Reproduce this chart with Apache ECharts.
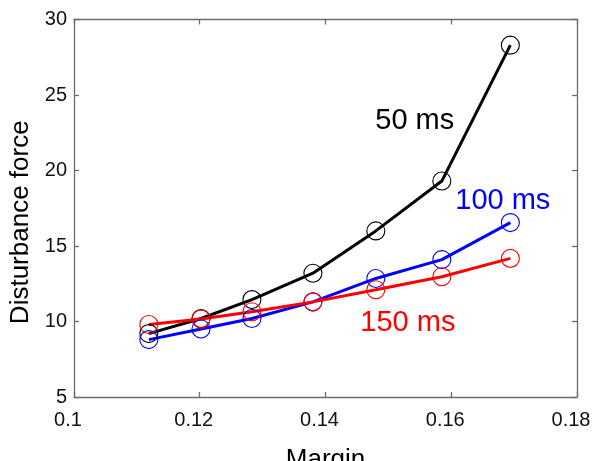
<!DOCTYPE html>
<html>
<head>
<meta charset="utf-8">
<script src="https://cdn.jsdelivr.net/npm/echarts@6/dist/echarts.min.js"></script>
<style>html,body{margin:0;padding:0;background:#fff}#c{width:594px;height:461px}</style>
</head>
<body>
<div id="c"></div>
<script>
// Data
const margin50 = [0.1119, 0.1202, 0.1283, 0.1380, 0.1480, 0.1585, 0.1694];
const force50  = [9.2, 10.2, 11.45, 13.2, 16.0, 19.3, 28.3];
const margin100 = [0.1119, 0.1202, 0.1283, 0.1380, 0.1480, 0.1585, 0.1694];
const force100  = [8.8, 9.5, 10.2, 11.3, 12.85, 14.1, 16.55];
const margin150 = [0.1119, 0.1202, 0.1283, 0.1380, 0.1480, 0.1585, 0.1694];
const force150  = [9.8, 10.16, 10.65, 11.3, 12.1, 12.96, 14.18];
const seriesNames = ['50 ms', '100 ms', '150 ms'];
const xTicks = [0.1, 0.12, 0.14, 0.16, 0.18];
const yTicks = [5, 10, 15, 20, 25, 30];
const xAxisName = 'Margin';
const yAxisName = 'Disturbance force';

// Annotation anchors (data coordinates) and styles
const labelAnchors = [[0.1542, 23.25], [0.1682, 17.98], [0.1531, 9.93]];
const colors = ['#000000', '#0000ff', '#ff0000'];
const FONT = 'Liberation Sans, Arial, sans-serif';

const xs = [margin50, margin100, margin150];
const ys = [force50, force100, force150];

const axisCommon = {
  type: 'value',
  axisLine: { show: true, lineStyle: { color: '#6b6b6b', width: 1.3 } },
  axisTick: { show: true, inside: true, length: 5, lineStyle: { color: '#6b6b6b', width: 1.3 } },
  splitLine: { show: false }
};

const series = seriesNames.map((name, i) => ({
  name: name,
  type: 'line',
  xAxisIndex: 0,
  yAxisIndex: 0,
  data: xs[i].map((x, k) => [x, ys[i][k]]),
  symbol: 'circle',
  symbolSize: 18,
  lineStyle: { color: colors[i], width: 3 },
  itemStyle: { color: 'rgba(0,0,0,0)', borderColor: colors[i], borderWidth: 1.1 },
  emphasis: { disabled: true },
  markPoint: {
    symbol: 'circle',
    symbolSize: 1,
    itemStyle: { color: 'rgba(0,0,0,0)' },
    label: {
      show: true, position: 'inside', formatter: name,
      color: colors[i], fontSize: 29, fontFamily: FONT
    },
    data: [{ coord: labelAnchors[i] }]
  }
}));

const chart = echarts.init(document.getElementById('c'), null, { renderer: 'canvas' });
chart.setOption({
  animation: false,
  backgroundColor: '#ffffff',
  grid: { left: 74, right: 17, top: 19.5, bottom: 64, containLabel: false, outerBoundsMode: 'none' },
  xAxis: [
    Object.assign({}, axisCommon, {
      position: 'bottom',
      min: xTicks[0], max: xTicks[xTicks.length - 1], interval: 0.02,
      name: xAxisName, nameLocation: 'middle', nameGap: 50,
      nameTextStyle: { color: '#000', fontSize: 26, fontFamily: FONT },
      axisLabel: { color: '#111', fontSize: 20, fontFamily: FONT, margin: 13,
        padding: [0, 12, 0, 0],
        formatter: v => String(+v.toFixed(2)) }
    }),
    Object.assign({}, axisCommon, {
      position: 'top',
      min: xTicks[0], max: xTicks[xTicks.length - 1], interval: 0.02,
      axisLabel: { show: false }
    })
  ],
  yAxis: [
    Object.assign({}, axisCommon, {
      position: 'left',
      min: yTicks[0], max: yTicks[yTicks.length - 1], interval: 5,
      name: yAxisName, nameLocation: 'middle', nameGap: 38, nameRotate: 90,
      nameTextStyle: { color: '#000', fontSize: 26, fontFamily: FONT, padding: [5, 28, 0, 0] },
      axisLabel: { color: '#111', fontSize: 20, fontFamily: FONT, margin: 7 }
    }),
    Object.assign({}, axisCommon, {
      position: 'right',
      min: yTicks[0], max: yTicks[yTicks.length - 1], interval: 5,
      axisLabel: { show: false }
    })
  ],
  series: series
});
</script>
</body>
</html>
